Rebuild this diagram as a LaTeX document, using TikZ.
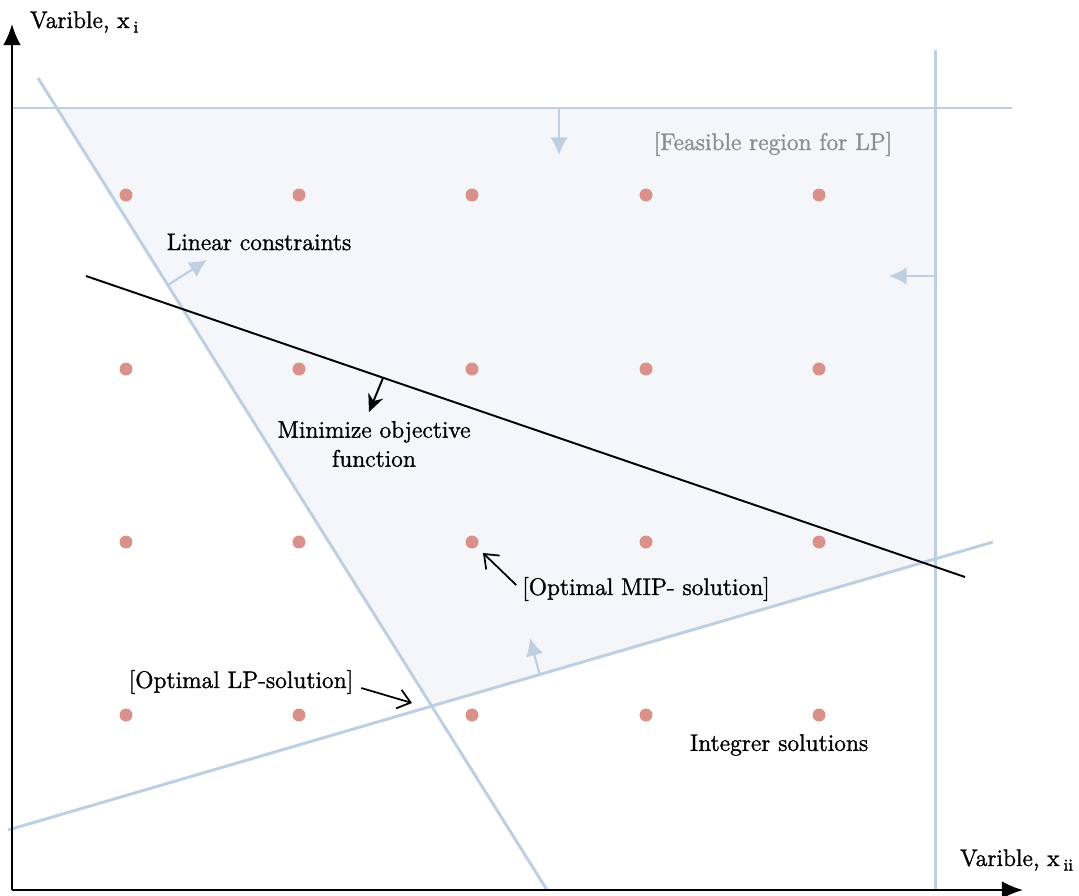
\documentclass[tikz,border=0pt]{standalone}
\usepackage{fontspec}
\usetikzlibrary{arrows.meta,calc}
\newfontfamily\lblfont{Latin Modern Roman}[FakeBold=1.4]
\definecolor{bound}{HTML}{BFCFE2}
\definecolor{region}{HTML}{F4F6FA}
\definecolor{pt}{HTML}{D9918B}
\definecolor{graytext}{HTML}{8C8C8C}
\newcommand{\sub}[1]{\raisebox{-0.45ex}{\fontsize{9.5}{10}\selectfont #1}}
\begin{document}
\begin{tikzpicture}[x=0.02cm,y=-0.02cm,
  lbl/.style={font=\lblfont\fontsize{13.6}{16.5}\selectfont, inner sep=1pt, align=center},
  bline/.style={draw=bound, line width=1.7pt},
  barrow/.style={draw=bound, line width=1.2pt, -{Latex[length=10pt,width=10pt]}},
  axis/.style={draw=black, line width=1.1pt, -{Latex[length=12pt,width=10pt]}},
  ptr/.style={draw=black, line width=1pt, -{Straight Barb[length=7pt,width=11pt]}},
  dot/.style={circle, fill=pt, inner sep=0pt, minimum size=13*0.2mm}]
\useasboundingbox (0,0) rectangle (1079,896);

% feasible region of the LP relaxation
\fill[region] (56.8,108) -- (935,108) -- (935,559) -- (431.7,706) -- cycle;

% constraint boundaries
\coordinate (topL) at (12,108);   \coordinate (topR) at (1012,108);
\coordinate (rgtT) at (935,50);   \coordinate (rgtB) at (935,890);
\coordinate (stpT) at (38,78);    \coordinate (stpB) at (547,890);
\coordinate (lowL) at (8,830);    \coordinate (lowR) at (993,542);
\draw[bline] (topL) -- (topR);
\draw[bline] (rgtT) -- (rgtB);
\draw[bline] (stpT) -- (stpB);
\draw[bline] (lowL) -- (lowR);

% direction of each constraint
\coordinate (a1s) at (559,108); \coordinate (a1e) at (559,155);
\coordinate (a2s) at (935,276); \coordinate (a2e) at (889,276);
\coordinate (a3s) at (168,285); \coordinate (a3e) at (207,260);
\coordinate (a4s) at (540,676); \coordinate (a4e) at (530,638);
\draw[barrow] (a1s) -- (a1e);
\draw[barrow] (a2s) -- (a2e);
\draw[barrow] (a3s) -- (a3e);
\draw[barrow] (a4s) -- (a4e);

% integer grid points
\foreach \i/\x in {1/126,2/299,3/472,4/646,5/819}
  \foreach \j/\y in {1/195,2/369,3/542,4/715}
    \node[dot] (p\i\j) at (\x,\y) {};

% objective function
\coordinate (objL) at (86,276); \coordinate (objR) at (965,577);
\draw[black, line width=1.1pt] (objL) -- (objR);
\coordinate (objA) at (383,378); \coordinate (objB) at (369,412);
\draw[black, line width=1.1pt, -{Stealth[length=10pt,width=9pt]}] (objA) -- (objB);

% axes
\coordinate (O) at (12,890);
\coordinate (yEnd) at (12,24);
\coordinate (xEnd) at (1023,890);
\draw[axis] (O) -- (yEnd);
\draw[axis] (O) -- (xEnd);

% labels
\node[lbl, anchor=west] (ylab) at (28,22) {Varible, x\,\sub{i}};
\node[lbl, anchor=west] (xlab) at (958,860) {Varible, x\,\sub{ii}};
\node[lbl] (lin) at (259,242) {Linear constraints};
\node[lbl] (obj) at (374,444) {Minimize objective\\function};
\node[lbl] (mip) at (646,589) {[Optimal MIP- solution]};
\node[lbl] (lp) at (241,682) {[Optimal LP-solution]};
\node[lbl, text=graytext] (feas) at (773,144) {[Feasible region for LP]};
\node[lbl] (ints) at (779,745) {Integrer solutions};

% pointers to the optima
\coordinate (lpTip) at (412,703);
\draw[ptr] (mip.west) ++(-4,-4) -- ($(p33)+(11,11)$);
\draw[ptr] (lp.east) ++(6,6) -- (lpTip);
\end{tikzpicture}
\end{document}
